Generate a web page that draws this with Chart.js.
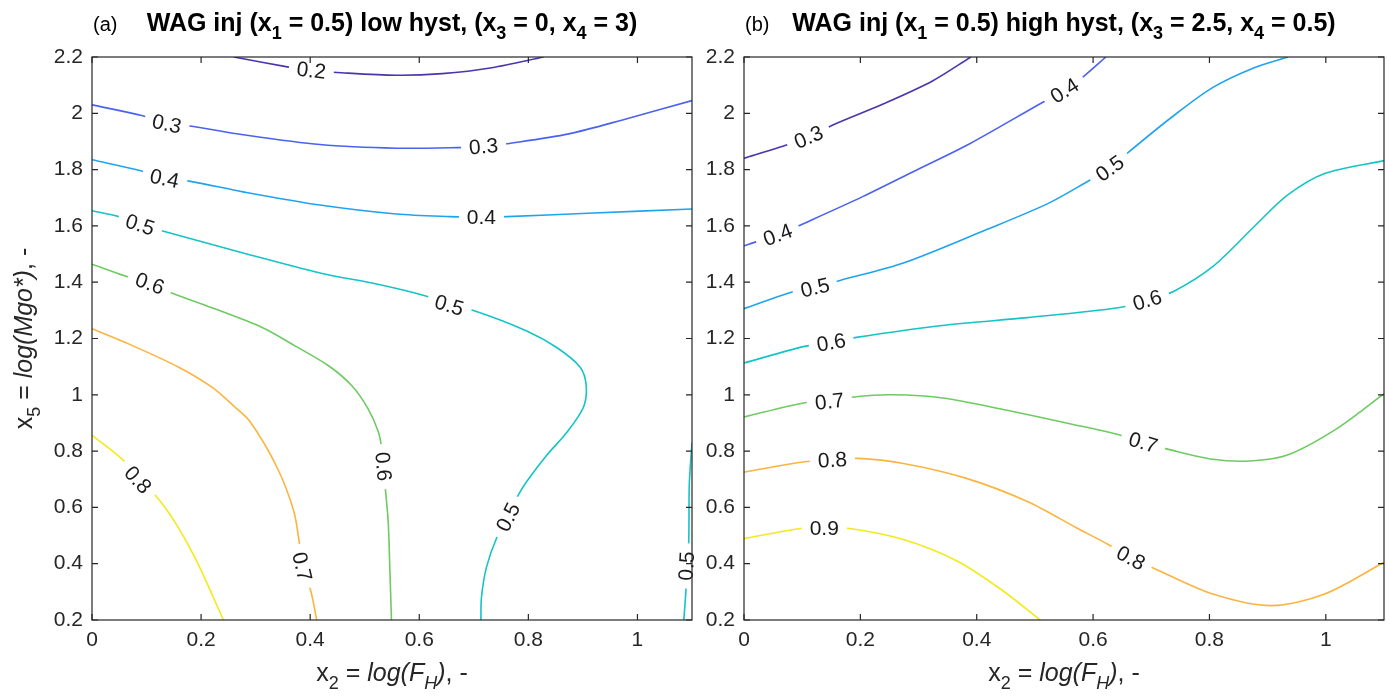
<!DOCTYPE html>
<html>
<head>
<meta charset="utf-8">
<script src="https://cdn.jsdelivr.net/npm/chart.js@4.4.1/dist/chart.umd.min.js"></script>
<style>
  html, body { margin: 0; padding: 0; background: #fff; }
  #wrap { position: relative; width: 1390px; height: 697px; overflow: hidden; }
  #panelA { position: absolute; left: 0; top: 0; }
  #panelB { position: absolute; left: 700px; top: 0; }
</style>
</head>
<body>
<div id="wrap">
  <canvas id="panelA" width="700" height="697"></canvas>
  <canvas id="panelB" width="690" height="697"></canvas>
</div>
<script>
const FONT = '"Liberation Sans", Arial, Helvetica, sans-serif';
const TEXT_COLOR = '#262626';
const TICK_LEN = 6;

// axes
const xTicks = [0, 0.2, 0.4, 0.6, 0.8, 1];
const yTicks = [0.2, 0.4, 0.6, 0.8, 1, 1.2, 1.4, 1.6, 1.8, 2, 2.2];

// texts: [text, style]  b = bold, i = italic, s = subscript
const titleA = [['WAG inj (x', 'b'], ['1', 'bs'], [' = 0.5) low hyst, (x', 'b'], ['3', 'bs'], [' = 0, x', 'b'], ['4', 'bs'], [' = 3)', 'b']];
const titleB = [['WAG inj (x', 'b'], ['1', 'bs'], [' = 0.5) high hyst, (x', 'b'], ['3', 'bs'], [' = 2.5, x', 'b'], ['4', 'bs'], [' = 0.5)', 'b']];
const xTitle = [['x', ''], ['2', 's'], [' = ', ''], ['log(F', 'i'], ['H', 'is'], [')', 'i'], [', -', '']];
const yTitle = [['x', ''], ['5', 's'], [' = ', ''], ['log(Mgo*)', 'i'], [', -', '']];

// contour levels + parula colours
const levelsA = [0.2, 0.3, 0.4, 0.5, 0.6, 0.7, 0.8];
const levelsB = [0.3, 0.4, 0.5, 0.6, 0.7, 0.8, 0.9];
const parula7 = ['#4b34ad', '#4a62ef', '#1ea4ef', '#14c4c6', '#6ecb62', '#fbb43d', '#f2ea1a'];

// (a) low hysteresis - contour lines [x2, x5]
const a020 = [[0.26, 2.2], [0.358, 2.165], [0.402, 2.152], [0.449, 2.145], [0.558, 2.135], [0.642, 2.141], [0.733, 2.162], [0.828, 2.2]];
const a030 = [[0, 2.03], [0.091, 1.992], [0.137, 1.962], [0.18, 1.955], [0.277, 1.924], [0.418, 1.889], [0.558, 1.876], [0.67, 1.878], [0.718, 1.882], [0.761, 1.892], [0.874, 1.927], [0.979, 1.98], [1.1, 2.045]];
const a040 = [[0, 1.835], [0.091, 1.795], [0.133, 1.768], [0.178, 1.759], [0.277, 1.721], [0.418, 1.674], [0.558, 1.642], [0.656, 1.633], [0.714, 1.631], [0.761, 1.633], [0.909, 1.645], [1.1, 1.66]];
const a050 = [[0, 1.654], [0.049, 1.633], [0.088, 1.604], [0.133, 1.58], [0.277, 1.504], [0.418, 1.433], [0.526, 1.392], [0.612, 1.351], [0.655, 1.318], [0.702, 1.298], [0.797, 1.227], [0.852, 1.168], [0.895, 1.098], [0.906, 1.033], [0.901, 0.956], [0.871, 0.868], [0.834, 0.786], [0.797, 0.692], [0.782, 0.645], [0.763, 0.565], [0.742, 0.492], [0.723, 0.386], [0.714, 0.28], [0.713, 0.2]];
const a050edge = [[1.1, 0.83], [1.095, 0.68], [1.094, 0.48], [1.09, 0.392], [1.089, 0.309], [1.085, 0.2]];
const a060 = [[0, 1.464], [0.062, 1.421], [0.106, 1.395], [0.146, 1.362], [0.22, 1.309], [0.312, 1.239], [0.372, 1.174], [0.433, 1.104], [0.476, 1.033], [0.506, 0.951], [0.525, 0.868], [0.532, 0.8], [0.534, 0.745], [0.538, 0.662], [0.543, 0.55], [0.546, 0.386], [0.549, 0.2]];
const a070 = [[0, 1.235], [0.068, 1.18], [0.159, 1.098], [0.22, 1.027], [0.26, 0.96], [0.29, 0.904], [0.34, 0.739], [0.37, 0.586], [0.38, 0.474], [0.385, 0.39], [0.401, 0.304], [0.412, 0.2]];
const a080 = [[0, 0.856], [0.057, 0.768], [0.084, 0.698], [0.118, 0.639], [0.155, 0.539], [0.192, 0.409], [0.241, 0.2]];

// (b) high hysteresis
const b030 = [[0, 1.84], [0.062, 1.88], [0.111, 1.915], [0.15, 1.956], [0.239, 2.033], [0.324, 2.115], [0.39, 2.2]];
const b040 = [[0, 1.529], [0.023, 1.545], [0.058, 1.568], [0.101, 1.607], [0.204, 1.704], [0.296, 1.798], [0.388, 1.892], [0.516, 2.042], [0.551, 2.08], [0.585, 2.133], [0.622, 2.2]];
const b050 = [[0, 1.306], [0.083, 1.365], [0.122, 1.38], [0.165, 1.406], [0.274, 1.468], [0.416, 1.586], [0.523, 1.68], [0.594, 1.762], [0.629, 1.804], [0.661, 1.862], [0.735, 1.986], [0.806, 2.092], [0.877, 2.162], [0.935, 2.2]];
const b060 = [[0, 1.113], [0.104, 1.172], [0.15, 1.186], [0.193, 1.204], [0.345, 1.247], [0.487, 1.274], [0.643, 1.309], [0.693, 1.336], [0.739, 1.368], [0.806, 1.456], [0.877, 1.598], [0.934, 1.709], [0.998, 1.786], [1.1, 1.832]];
const b070 = [[0, 0.921], [0.104, 0.972], [0.147, 0.976], [0.189, 0.992], [0.253, 1.0], [0.345, 0.988], [0.452, 0.945], [0.558, 0.898], [0.643, 0.859], [0.686, 0.83], [0.728, 0.807], [0.806, 0.771], [0.87, 0.765], [0.934, 0.786], [1.019, 0.88], [1.1, 1.004]];
const b080 = [[0, 0.725], [0.104, 0.762], [0.152, 0.768], [0.196, 0.774], [0.274, 0.756], [0.381, 0.704], [0.487, 0.621], [0.572, 0.527], [0.626, 0.468], [0.665, 0.42], [0.704, 0.384], [0.806, 0.292], [0.906, 0.251], [0.998, 0.292], [1.1, 0.405]];
const b090 = [[0, 0.489], [0.097, 0.525], [0.138, 0.527], [0.182, 0.525], [0.274, 0.486], [0.367, 0.409], [0.445, 0.304], [0.509, 0.2]];

// inline contour labels [level, x2, x5]
const labelsA = [[0.2, 0.402, 2.152], [0.3, 0.137, 1.962], [0.3, 0.718, 1.882], [0.4, 0.133, 1.768], [0.4, 0.714, 1.631],
  [0.5, 0.088, 1.604], [0.5, 0.655, 1.318], [0.5, 0.763, 0.565], [0.5, 1.09, 0.392], [0.6, 0.106, 1.395], [0.6, 0.534, 0.745],
  [0.7, 0.385, 0.39], [0.8, 0.084, 0.698]];
const labelsB = [[0.3, 0.111, 1.915], [0.4, 0.058, 1.568], [0.4, 0.551, 2.08], [0.5, 0.122, 1.38], [0.5, 0.629, 1.804],
  [0.6, 0.15, 1.186], [0.6, 0.693, 1.336], [0.7, 0.147, 0.976], [0.7, 0.686, 0.83], [0.8, 0.152, 0.768], [0.8, 0.665, 0.42],
  [0.9, 0.138, 0.527]];

const contoursA = [[0.2, a020], [0.3, a030], [0.4, a040], [0.5, a050], [0.5, a050edge], [0.6, a060], [0.7, a070], [0.8, a080]];
const contoursB = [[0.3, b030], [0.4, b040], [0.5, b050], [0.6, b060], [0.7, b070], [0.8, b080], [0.9, b090]];

// // // // // //
// HELPERS
// // // // // //

function fontFor(style, size) {
    const sub = style.includes('s');
    return (style.includes('i') ? 'italic ' : '') + (style.includes('b') ? 'bold ' : '') +
        Math.round(sub ? size * 0.72 : size) + 'px ' + FONT;
}

// draws text with sub-scripts, x is the centre (or left) of the whole run
function drawRich(ctx, parts, x, y, size, align) {
    let total = 0;
    parts.forEach(([t, s]) => { ctx.font = fontFor(s, size); total += ctx.measureText(t).width; });
    let cx = align === 'center' ? x - total / 2 : x;
    ctx.textAlign = 'left';
    ctx.textBaseline = 'alphabetic';
    parts.forEach(([t, s]) => {
        ctx.font = fontFor(s, size);
        ctx.fillText(t, cx, y + (s.includes('s') ? size * 0.32 : 0));
        cx += ctx.measureText(t).width;
    });
}

const contourLabelPlugin = {
    id: 'contourLabels',
    afterDatasetsDraw(chart, args, opts) {
        const ctx = chart.ctx;
        const xs = chart.scales.x, ys = chart.scales.y;
        ctx.save();
        ctx.font = '21px ' + FONT;
        ctx.textAlign = 'center';
        ctx.textBaseline = 'middle';
        opts.labels.forEach(([lvl, lx, ly]) => {
            const px = xs.getPixelForValue(lx), py = ys.getPixelForValue(ly);
            // nearest vertex of the same level -> direction from its neighbours
            let best = null, bestD = Infinity;
            chart.data.datasets.forEach(ds => {
                if (ds.level !== lvl) return;
                ds.data.forEach((p, i) => {
                    const d = Math.hypot(xs.getPixelForValue(p.x) - px, ys.getPixelForValue(p.y) - py);
                    if (d < bestD) { bestD = d; best = { pts: ds.data, i }; }
                });
            });
            let ang = 0;
            if (best) {
                const a = best.pts[Math.max(0, best.i - 1)], b = best.pts[Math.min(best.pts.length - 1, best.i + 1)];
                const dx = xs.getPixelForValue(b.x) - xs.getPixelForValue(a.x);
                const dy = ys.getPixelForValue(b.y) - ys.getPixelForValue(a.y);
                ang = Math.atan2(dy, dx);
                if (ang > Math.PI / 2) ang -= Math.PI;
                if (ang < -Math.PI / 2) ang += Math.PI;
            }
            const text = lvl.toFixed(1);
            const w = ctx.measureText(text).width;
            ctx.save();
            ctx.translate(px, py);
            ctx.rotate(ang);
            ctx.fillStyle = '#ffffff';
            ctx.fillRect(-w / 2 - 8, -7, w + 16, 14);
            ctx.fillStyle = '#1a1a1a';
            ctx.fillText(text, 0, 1);
            ctx.restore();
        });
        ctx.restore();
    }
};

const framePlugin = {
    id: 'frame',
    afterDraw(chart, args, opts) {
        const { ctx, chartArea: a } = chart;
        const xs = chart.scales.x, ys = chart.scales.y;
        ctx.save();
        ctx.strokeStyle = TEXT_COLOR;
        ctx.lineWidth = 1.2;
        ctx.strokeRect(a.left, a.top, a.right - a.left, a.bottom - a.top);

        // inward ticks on all four sides
        ctx.beginPath();
        xs.ticks.forEach(t => {
            const p = xs.getPixelForValue(t.value);
            ctx.moveTo(p, a.bottom); ctx.lineTo(p, a.bottom - TICK_LEN);
            ctx.moveTo(p, a.top); ctx.lineTo(p, a.top + TICK_LEN);
        });
        ys.ticks.forEach(t => {
            const p = ys.getPixelForValue(t.value);
            ctx.moveTo(a.left, p); ctx.lineTo(a.left + TICK_LEN, p);
            ctx.moveTo(a.right, p); ctx.lineTo(a.right - TICK_LEN, p);
        });
        ctx.stroke();

        ctx.fillStyle = '#000000';
        drawRich(ctx, opts.title, (a.left + a.right) / 2, 31, 25, 'center');
        ctx.font = '20px ' + FONT;
        ctx.textAlign = 'left';
        ctx.fillText(opts.tag, a.left + 1, 31);

        ctx.fillStyle = TEXT_COLOR;
        drawRich(ctx, xTitle, (a.left + a.right) / 2, 681, 25, 'center');
        if (opts.yTitle) {
            ctx.save();
            ctx.translate(32, (a.top + a.bottom) / 2);
            ctx.rotate(-Math.PI / 2);
            drawRich(ctx, yTitle, 0, 0, 25, 'center');
            ctx.restore();
        }
        ctx.restore();
    }
};

function tickText(v) {
    return String(parseFloat(Number(v).toFixed(1)));
}

function buildChart(canvasId, contours, levels, labels, title, tag, showYTitle, yAxisWidth, rightPad) {
    const datasets = contours.map(([lvl, pts]) => ({
        level: lvl,
        data: pts.map(p => ({ x: p[0], y: p[1] })),
        showLine: true,
        borderColor: parula7[levels.indexOf(lvl)],
        borderWidth: 1.6,
        pointRadius: 0,
        tension: 0.3,
        fill: false
    }));

    const ctx = document.getElementById(canvasId).getContext('2d');
    return new Chart(ctx, {
        type: 'scatter',
        data: { datasets },
        options: {
            responsive: false,
            maintainAspectRatio: false,
            animation: false,
            events: [],
            devicePixelRatio: 1,
            layout: { padding: { top: 57, right: rightPad, bottom: 0, left: 0 } },
            scales: {
                x: {
                    type: 'linear',
                    min: 0,
                    max: 1.1,
                    afterBuildTicks: scale => { scale.ticks = xTicks.map(v => ({ value: v })); },
                    afterFit: scale => { scale.height = 77; },
                    grid: { display: false, drawTicks: false },
                    border: { display: false },
                    ticks: {
                        autoSkip: false,
                        maxRotation: 0,
                        padding: 8,
                        color: TEXT_COLOR,
                        font: { family: FONT, size: 21 },
                        callback: tickText
                    }
                },
                y: {
                    type: 'linear',
                    min: 0.2,
                    max: 2.2,
                    afterBuildTicks: scale => { scale.ticks = yTicks.map(v => ({ value: v })); },
                    afterFit: scale => { scale.width = yAxisWidth; },
                    grid: { display: false, drawTicks: false },
                    border: { display: false },
                    ticks: {
                        autoSkip: false,
                        padding: 9,
                        color: TEXT_COLOR,
                        font: { family: FONT, size: 21 },
                        callback: tickText
                    }
                }
            },
            plugins: {
                legend: { display: false },
                tooltip: { enabled: false },
                contourLabels: { labels },
                frame: { title, tag, yTitle: showYTitle }
            }
        },
        plugins: [contourLabelPlugin, framePlugin]
    });
}

buildChart('panelA', contoursA, levelsA, labelsA, titleA, '(a)', true, 92, 8);
buildChart('panelB', contoursB, levelsB, labelsB, titleB, '(b)', false, 44, 6);
</script>
</body>
</html>
